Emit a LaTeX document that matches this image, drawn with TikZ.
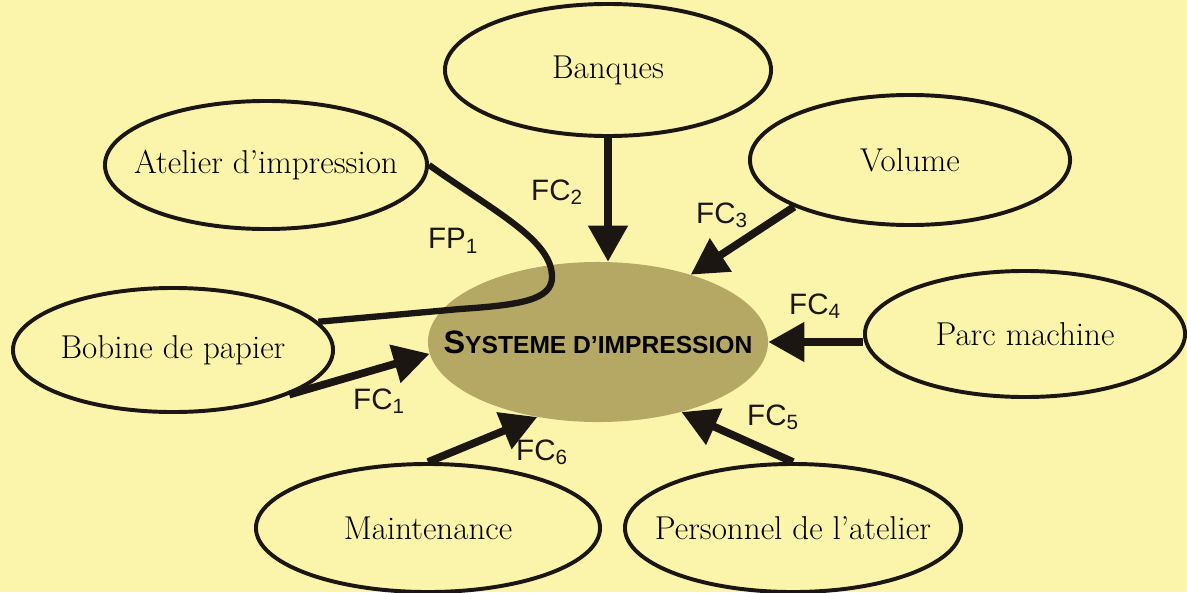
\documentclass[tikz,border=0pt]{standalone}
\usepackage{fontspec}
\usetikzlibrary{shapes.geometric,arrows.meta}
\newfontfamily\labelfont{Liberation Sans}
\definecolor{paper}{RGB}{251,245,172}
\definecolor{khaki}{RGB}{181,167,100}
\definecolor{ink}{RGB}{28,22,18}
\tikzset{
  bubble/.style={ellipse,draw=ink,line width=2.8pt,inner xsep=-1.2cm,inner ysep=0pt,
    minimum width=8cm,minimum height=3.2cm,font=\fontsize{23.5}{27}\selectfont},
  fc/.style={draw=ink,line width=5.5pt,-{Triangle[length=0.9cm,width=0.95cm]}},
  flabel/.style={font=\labelfont\fontsize{21}{24}\selectfont,text=ink}
}

\begin{document}
\begin{tikzpicture}[x=0.025cm,y=-0.025cm]
  \useasboundingbox (0,0) rectangle (1187,592);
  \fill[paper] (0,0) rectangle (1187,592);
  %
  \node[ellipse,fill=khaki,inner xsep=-1.2cm,inner ysep=0pt,minimum width=8.5cm,minimum height=4cm] (systeme) at (598,342)
    {\labelfont\bfseries\fontsize{23}{26}\selectfont S\fontsize{17.5}{20}\selectfont YSTEME D’IMPRESSION};
  \node[bubble,minimum width=8.15cm,minimum height=3.3cm] (banques) at (608,70) {Banques};
  \node[bubble,minimum width=8.05cm] (atelier) at (266,165) {Atelier d’impression};
  \node[bubble,minimum height=3.25cm] (volume) at (910,160) {Volume};
  \node[bubble,minimum height=3.1cm] (bobine) at (173,350) {Bobine de papier};
  \node[bubble,minimum height=3.15cm] (parc) at (1025,334) {Parc machine};
  \node[bubble,minimum width=8.6cm] (maintenance) at (428,528) {Maintenance};
  \node[bubble,minimum width=8.4cm] (personnel) at (793,528) {Personnel de l’atelier};
  %
  \draw[ink,line width=4.5pt] (atelier.east) .. controls (495,212) and (552,240) .. (552,277)
    .. controls (552,300) and (520,305) .. (460,309) -- (bobine.11);
  \draw[fc] (bobine.-21) -- (systeme.184);
  \draw[fc] (banques.south) -- (banques.south |- systeme.north);
  \draw[fc] (volume.202) -- (systeme.36);
  \draw[fc] (parc.west |- systeme.east) -- (systeme.east);
  \draw[fc] (personnel.north) -- (systeme.-40);
  \draw[fc] (maintenance.north) -- (systeme.231);
  %
  \node[flabel] (fp1) at (453,241) {FP\textsubscript{1}};
  \node[flabel] (fc1) at (379,401) {FC\textsubscript{1}};
  \node[flabel] (fc2) at (557,192) {FC\textsubscript{2}};
  \node[flabel] (fc3) at (722,215) {FC\textsubscript{3}};
  \node[flabel] (fc4) at (815,306) {FC\textsubscript{4}};
  \node[flabel] (fc5) at (773,417) {FC\textsubscript{5}};
  \node[flabel] (fc6) at (542,452) {FC\textsubscript{6}};
\end{tikzpicture}
\end{document}
